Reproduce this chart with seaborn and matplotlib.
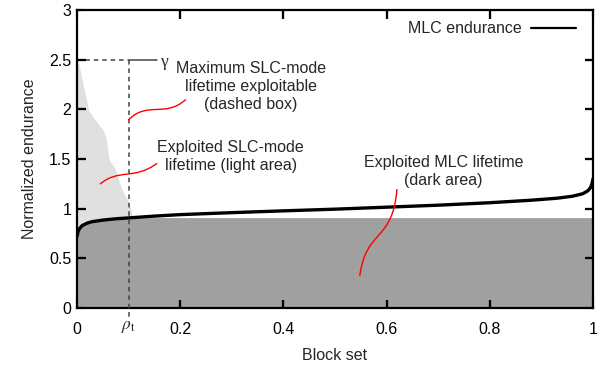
import numpy as np
import pandas as pd
import seaborn as sns
import matplotlib
matplotlib.use("Agg")
import matplotlib.pyplot as plt
from matplotlib.path import Path
from matplotlib.patches import PathPatch
from matplotlib.lines import Line2D

# ---- data ----
mlc_x = [0.0, 0.002, 0.005, 0.01, 0.02, 0.03, 0.05, 0.075, 0.1, 0.15, 0.2, 0.3,
         0.4, 0.5, 0.6, 0.7, 0.8, 0.88, 0.93, 0.96, 0.98, 0.99, 0.995, 0.998, 1.0]
mlc_y = [0.72, 0.77, 0.80, 0.83, 0.855, 0.87, 0.885, 0.898, 0.907, 0.925, 0.94, 0.96,
         0.978, 0.995, 1.015, 1.035, 1.06, 1.085, 1.105, 1.125, 1.15, 1.18, 1.21, 1.25, 1.3]

slc_x = [0.0, 0.004, 0.009, 0.014, 0.019, 0.023, 0.028, 0.033, 0.039, 0.046, 0.051,
         0.056, 0.062, 0.067, 0.072, 0.077, 0.081, 0.086, 0.091, 0.096, 0.1, 0.104, 0.107]
slc_y = [2.5, 2.45, 2.32, 2.2, 2.08, 1.98, 1.95, 1.91, 1.87, 1.82, 1.79,
         1.72, 1.5, 1.45, 1.42, 1.36, 1.28, 1.21, 1.15, 1.11, 1.07, 1.0, 0.93]

dark_level = 0.91
rho_t = 0.1
gamma = 2.5

x_ticks = [0, 0.2, 0.4, 0.6, 0.8, 1]
x_ticklabels = ["0", "0.2", "0.4", "0.6", "0.8", "1"]
y_ticks = [0, 0.5, 1, 1.5, 2, 2.5, 3]
y_ticklabels = ["0", "0.5", "1", "1.5", "2", "2.5", "3"]

# ---- style ----
sns.set_theme(style="ticks")
plt.rcParams["font.family"] = ["Liberation Sans", "DejaVu Sans"]
plt.rcParams["mathtext.fontset"] = "stix"
FS = 11.5

fig = plt.figure(figsize=(6.11, 3.71), dpi=100)
ax = fig.add_axes([77 / 611, 1 - 308 / 371, 516 / 611, 298 / 371])

df = pd.DataFrame({"x": mlc_x, "y": mlc_y})

# light area (SLC-mode exploited)
ax.fill_between(slc_x, 0, slc_y, color="#e0e0e0", lw=0, zorder=1)
# dark area (MLC exploited)
ax.fill_between(mlc_x, 0, np.minimum(mlc_y, dark_level), color="#a0a0a0", lw=0, zorder=2)
# MLC endurance curve
sns.lineplot(data=df, x="x", y="y", ax=ax, color="black", lw=2.4, zorder=4, legend=False)

# dashed box
ax.plot([0, rho_t], [gamma, gamma], ls=(0, (3, 2.5)), color="#444444", lw=1.1, zorder=5)
ax.plot([rho_t, rho_t], [gamma, -0.1], ls=(0, (3, 2.5)), color="#444444", lw=1.1,
        zorder=5, clip_on=False)
ax.plot([rho_t, 0.155], [gamma, gamma], color="#444444", lw=1.1, zorder=5)
ax.text(0.162, gamma - 0.02, "γ", fontsize=FS + 1, family=["Liberation Serif"],
        ha="left", va="center")
ax.text(rho_t, -0.19, r"$\rho_{\mathrm{t}}$", fontsize=FS + 1, ha="center", va="center")

# annotations
ax.text(0.337, 2.23, "Maximum SLC-mode\nlifetime exploitable\n(dashed box)",
        ha="center", va="center", fontsize=FS, linespacing=1.25)
ax.text(0.298, 1.53, "Exploited SLC-mode\nlifetime (light area)",
        ha="center", va="center", fontsize=FS, linespacing=1.25)
ax.text(0.71, 1.37, "Exploited MLC lifetime\n(dark area)",
        ha="center", va="center", fontsize=FS, linespacing=1.25)

def squiggle(pts):
    path = Path(pts, [Path.MOVETO, Path.CURVE4, Path.CURVE4, Path.CURVE4])
    ax.add_patch(PathPatch(path, fc="none", ec="red", lw=1.0, zorder=6))

squiggle([(0.099, 1.89), (0.136, 2.09), (0.171, 1.91), (0.211, 2.10)])
squiggle([(0.0446, 1.246), (0.0795, 1.407), (0.112, 1.286), (0.155, 1.457)])
squiggle([(0.548, 0.322), (0.560, 0.80), (0.612, 0.66), (0.620, 1.197)])

# legend
h = Line2D([], [], color="black", lw=1.6)
ax.legend([h], ["MLC endurance"], loc="upper right", bbox_to_anchor=(0.967, 0.962),
          frameon=False, markerfirst=False, fontsize=FS, handlelength=2.8,
          handletextpad=0.6, borderpad=0, borderaxespad=0)

# axes
ax.set_xlim(0, 1)
ax.set_ylim(0, 3)
ax.set_xticks(x_ticks)
ax.set_xticklabels(x_ticklabels)
ax.set_yticks(y_ticks)
ax.set_yticklabels(y_ticklabels)
ax.set_axisbelow(False)
ax.tick_params(direction="in", length=6, width=1.5, top=True, right=True,
               bottom=True, left=True, labelsize=FS, colors="black")
ax.tick_params(axis="x", pad=10)
ax.tick_params(axis="y", pad=4)
for s in ax.spines.values():
    s.set_color("black")
    s.set_linewidth(1.6)

# inward tick marks on all four sides, placed at the tick positions
XT_LEN = 8.5 / 298   # axes fraction (vertical)
YT_LEN = 8.5 / 516   # axes fraction (horizontal)
xtr = ax.get_xaxis_transform()
ytr = ax.get_yaxis_transform()
for xv in x_ticks[1:-1]:
    ax.plot([xv, xv], [0, XT_LEN], transform=xtr, color="black", lw=1.6,
            solid_capstyle="butt", clip_on=False, zorder=20)
    ax.plot([xv, xv], [1, 1 - XT_LEN], transform=xtr, color="black", lw=1.6,
            solid_capstyle="butt", clip_on=False, zorder=20)
for yv in y_ticks[1:-1]:
    ax.plot([0, YT_LEN], [yv, yv], transform=ytr, color="black", lw=1.6,
            solid_capstyle="butt", clip_on=False, zorder=20)
    ax.plot([1, 1 - YT_LEN], [yv, yv], transform=ytr, color="black", lw=1.6,
            solid_capstyle="butt", clip_on=False, zorder=20)

ax.set_xlim(0, 1)
ax.set_ylim(0, 3)

ax.set_xlabel("Block set", fontsize=FS)
ax.set_ylabel("Normalized endurance", fontsize=FS)
ax.xaxis.set_label_coords(0.5, -0.135)
ax.yaxis.set_label_coords(-0.078, 0.5)

fig.savefig("out.png", dpi=100)
